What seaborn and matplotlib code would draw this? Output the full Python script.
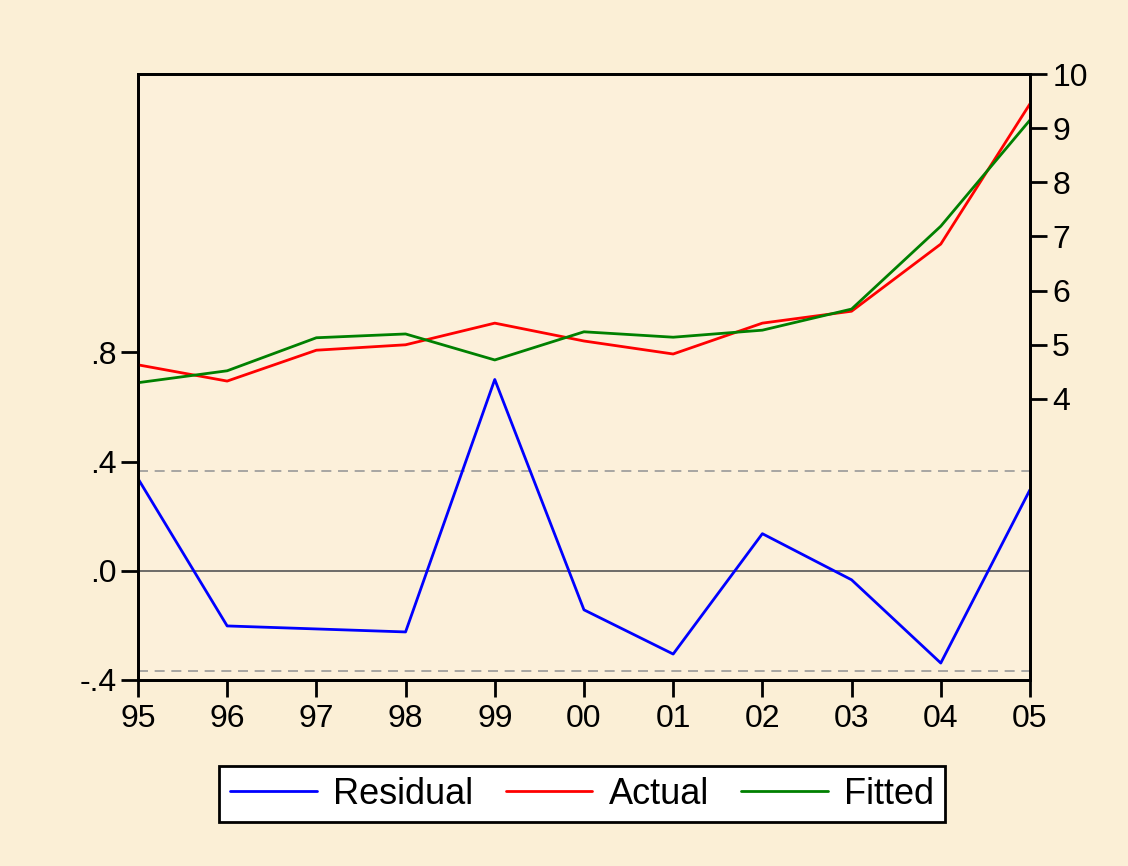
import matplotlib
matplotlib.use("Agg")
import matplotlib.pyplot as plt
import seaborn as sns
import pandas as pd

years = ["95", "96", "97", "98", "99", "00", "01", "02", "03", "04", "05"]
residual = [0.338, -0.202, -0.213, -0.224, 0.701, -0.143, -0.305, 0.136, -0.033, -0.338, 0.297]
actual = [4.63, 4.33, 4.90, 5.00, 5.40, 5.07, 4.83, 5.40, 5.62, 6.86, 9.45]
fitted = [4.30, 4.52, 5.13, 5.20, 4.72, 5.24, 5.14, 5.27, 5.66, 7.19, 9.15]
std_band = 0.367
left_ticks = [-0.4, 0.0, 0.4, 0.8]
left_labels = ["-.4", ".0", ".4", ".8"]
right_ticks = [4, 5, 6, 7, 8, 9, 10]

sns.set_style("ticks")
plt.rcParams["font.family"] = ["Liberation Sans", "DejaVu Sans"]
plt.rcParams["text.color"] = "black"

bg = "#FBEFD6"
fig = plt.figure(figsize=(11.28, 8.66), dpi=100, facecolor=bg)
ax = fig.add_axes([0.1223, 0.2148, 0.7908, 0.6997])
ax.set_facecolor("#FCF0DA")

df = pd.DataFrame({"x": range(len(years)), "Residual": residual,
                   "Actual": actual, "Fitted": fitted})

ax.axhline(0, color="#555555", lw=1.2, zorder=1)
ax.axhline(std_band, color="#999999", lw=1.2, ls=(0, (6, 4)), zorder=1)
ax.axhline(-std_band, color="#999999", lw=1.2, ls=(0, (6, 4)), zorder=1)
sns.lineplot(data=df, x="x", y="Residual", ax=ax, color="#0000FF", lw=2, legend=False)

ax2 = ax.twinx()
sns.lineplot(data=df, x="x", y="Actual", ax=ax2, color="#FF0000", lw=2, legend=False)
sns.lineplot(data=df, x="x", y="Fitted", ax=ax2, color="#008000", lw=2, legend=False)

ax.set_xlim(0, len(years) - 1)
ax.set_ylim(-0.4, 1.82)
ax2.set_ylim(-1.19, 10)
ax.set_xticks(range(len(years)))
ax.set_xticklabels(years)
ax.set_yticks(left_ticks)
ax.set_yticklabels(left_labels)
ax2.set_yticks(right_ticks)
ax2.set_yticklabels([str(t) for t in right_ticks])
ax.set_xlabel("")
ax.set_ylabel("")
ax2.set_ylabel("")

for a in (ax, ax2):
    for s in a.spines.values():
        s.set_visible(True)
        s.set_color("black")
        s.set_linewidth(2)
ax.tick_params(axis="both", direction="out", length=12, width=2, labelsize=23,
               colors="black", labelcolor="black")
ax.tick_params(axis="y", pad=3)
ax.tick_params(axis="x", pad=5)
ax2.tick_params(axis="y", direction="out", length=12, width=2, labelsize=23, pad=4,
                colors="black", labelcolor="black")

leg = fig.legend(handles=[ax.lines[-1], ax2.lines[0], ax2.lines[1]],
                 labels=["Residual", "Actual", "Fitted"],
                 loc="center", bbox_to_anchor=(0.516, 0.0831), ncol=3, fontsize=26,
                 frameon=True, fancybox=False, edgecolor="black", facecolor="white",
                 framealpha=1, handlelength=2.4, columnspacing=0.9, handletextpad=0.45,
                 borderpad=0.3, borderaxespad=0, labelcolor="black")
leg.get_frame().set_linewidth(2)

fig.savefig("out.png", dpi=100, facecolor=bg)
